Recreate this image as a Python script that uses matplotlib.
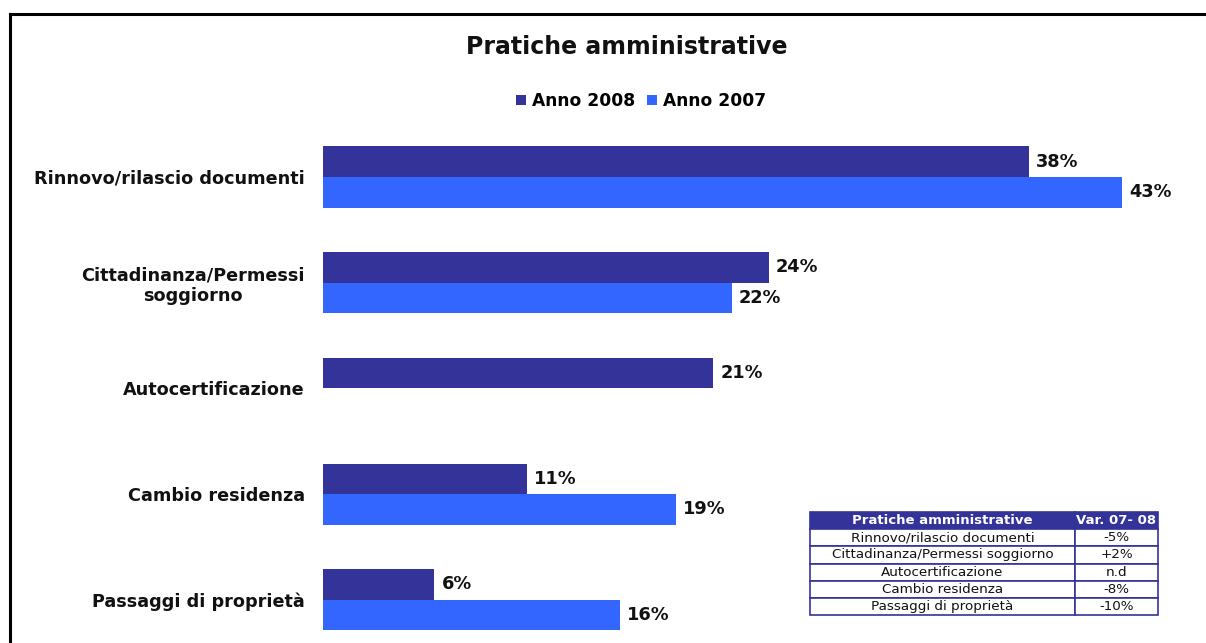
import matplotlib.pyplot as plt
from matplotlib.lines import Line2D
import numpy as np

plt.rcParams['font.family'] = ['DejaVu Sans']

# Pratiche amministrative: quota per tipo di pratica
categories = ["Rinnovo/rilascio documenti", "Cittadinanza/Permessi\nsoggiorno",
              "Autocertificazione", "Cambio residenza", "Passaggi di proprietà"]
anno_2008 = [38, 24, 21, 11, 6]
anno_2007 = [43, 22, None, 19, 16]

# Tabella variazioni 07-08
table_header = ["Pratiche amministrative", "Var. 07- 08"]
table_rows = ["Rinnovo/rilascio documenti", "Cittadinanza/Permessi soggiorno",
              "Autocertificazione", "Cambio residenza", "Passaggi di proprietà"]
table_var = ["-5%", "+2%", "n.d", "-8%", "-10%"]

NAVY = "#333399"
BLUE = "#3366FF"
TXT = "#111111"

W, H = 1206, 643
fig = plt.figure(figsize=(W / 100, H / 100), dpi=100)

# bar axes: x from px 323, 18.58 px per %
ax = fig.add_axes([323 / W, 0, 836 / W, 519 / H])
ax.set_xlim(0, 45)
ax.set_ylim(4.409, -0.501)

y = np.arange(len(categories))
bh = 0.289
v07 = [v if v is not None else 0 for v in anno_2007]
b1 = ax.barh(y - bh / 2, anno_2008, height=bh, color=NAVY, label="Anno 2008")
b2 = ax.barh(y + bh / 2, v07, height=bh, color=BLUE, label="Anno 2007")

for yi, v in zip(y, anno_2008):
    ax.text(v + 0.38, yi - bh / 2, f"{v}%", va="center", ha="left",
            fontsize=12.8, fontweight="bold", color=TXT)
for yi, v in zip(y, anno_2007):
    if v is not None:
        ax.text(v + 0.38, yi + bh / 2, f"{v}%", va="center", ha="left",
                fontsize=12.8, fontweight="bold", color=TXT)

ax.set_yticks(y)
ax.set_yticklabels(categories, fontsize=12.7, fontweight="bold", color=TXT)
for lbl in ax.get_yticklabels():
    lbl.set_multialignment("center")
ax.tick_params(axis="y", length=0, pad=13)
ax.set_xticks([])
for s in ax.spines.values():
    s.set_visible(False)

fig.text(627 / W, 1 - 47 / H, "Pratiche amministrative", ha="center", va="center",
         fontsize=17, fontweight="bold", color=TXT)

fig.legend(handles=[b1, b2], loc="center", bbox_to_anchor=(641 / W, 1 - 101 / H),
           ncol=2, frameon=False, handlelength=0.6, handleheight=0.6,
           handletextpad=0.35, columnspacing=0.7,
           prop={"weight": "bold", "size": 12.3})

# table of variations
tax = fig.add_axes([810 / W, 28 / H, 348 / W, 103 / H])
tax.axis("off")
cells = [[r, v] for r, v in zip(table_rows, table_var)]
tbl = tax.table(cellText=cells, colLabels=table_header, bbox=[0, 0, 1, 1],
                colWidths=[265, 83], cellLoc="center")
tbl.auto_set_font_size(False)
for (r, c), cell in tbl.get_celld().items():
    cell.set_edgecolor(NAVY)
    cell.set_linewidth(1.2)
    cell.get_text().set_fontsize(9.7)
    cell.get_text().set_color(TXT)
    if r == 0:
        cell.set_facecolor(NAVY)
        cell.get_text().set_color("white")
        cell.get_text().set_fontweight("bold")
        cell.get_text().set_fontsize(9.5)

# frame lines (top and left)
fig.add_artist(Line2D([9.5 / W, 1.0], [1 - 14 / H, 1 - 14 / H], color="black", lw=2.2))
fig.add_artist(Line2D([9.5 / W, 9.5 / W], [0, 1 - 14 / H], color="black", lw=2.2))

fig.savefig("out.png", dpi=100, facecolor="white")
